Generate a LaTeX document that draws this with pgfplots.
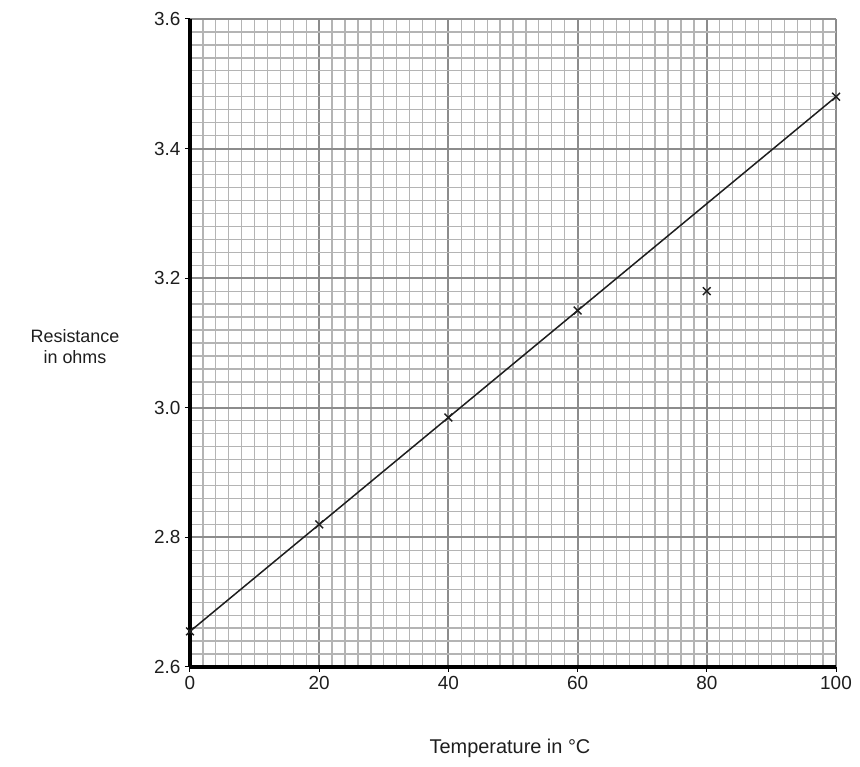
\documentclass[border=0pt]{standalone}
\usepackage{pgfplots}
\pgfplotsset{compat=1.18}
\usepackage{fontspec}
\setmainfont{Liberation Sans}
\definecolor{gridminor}{RGB}{180,180,180}
\definecolor{gridmajor}{RGB}{140,140,140}
\definecolor{inkdark}{RGB}{30,30,30}

\begin{document}
\begin{tikzpicture}[x=1bp,y=1bp]
\useasboundingbox (-190,-100) rectangle (670,667);
\begin{axis}[
    at={(0,0)}, anchor=origin,
    scale only axis,
    width=646bp, height=648bp,
    xmin=0, xmax=100, ymin=2.6, ymax=3.6,
    xtick={0,20,...,100},
    ytick={2.6,2.8,...,3.6},
    minor x tick num=9,
    minor y tick num=9,
    grid=both,
    minor grid style={gridminor, line width=1.3bp},
    major grid style={gridmajor, line width=2bp},
    axis x line*=bottom,
    axis y line*=left,
    axis line style={black, line width=3.5bp, -},
    tick style={black, line width=1bp},
    major tick length=5bp,
    minor tick length=0pt,
    tick align=outside,
    /pgf/number format/assume math mode=true,
    /pgf/number format/fixed,
    /pgf/number format/fixed zerofill,
    /pgf/number format/precision=1,
    xticklabel={\pgfmathprintnumber[fixed,precision=0]{\tick}},
    ticklabel style={font=\fontsize{19}{22}\selectfont, text=inkdark},
    xticklabel style={yshift=-1bp},
    yticklabel style={xshift=-1bp},
    clip=false,
]
\addplot[inkdark, line width=1.5bp] coordinates {(0,2.655) (100,3.48)};
\addplot[only marks, mark=x, mark size=5.5bp, inkdark, mark options={line width=1.4bp}]
    coordinates {(0,2.655) (20,2.82) (40,2.985) (60,3.15) (80,3.18) (100,3.48)};
\end{axis}
\node[font=\fontsize{18}{21}\selectfont, text=inkdark, align=center] at (-115,320) {Resistance\\in ohms};
\node[font=\fontsize{20}{23}\selectfont, text=inkdark] at (320,-81) {Temperature in °C};
\end{tikzpicture}
\end{document}
